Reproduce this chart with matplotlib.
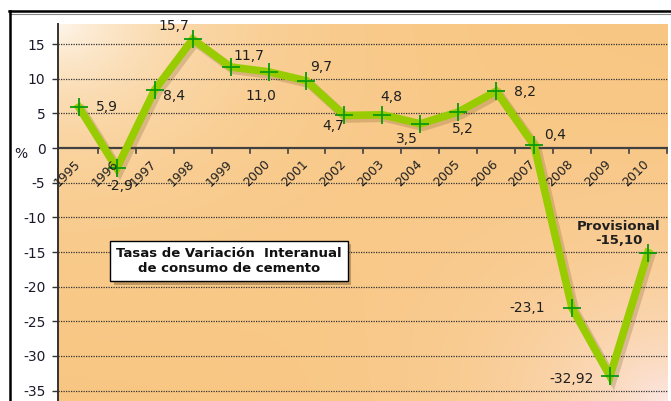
import numpy as np
import matplotlib
matplotlib.use("Agg")
from matplotlib import pyplot as plt
from matplotlib import patheffects as pe
from matplotlib.lines import Line2D

years = ["1995", "1996", "1997", "1998", "1999", "2000", "2001", "2002",
         "2003", "2004", "2005", "2006", "2007", "2008", "2009", "2010"]
values = [5.9, -2.9, 8.4, 15.7, 11.7, 11.0, 9.7, 4.7,
          4.8, 3.5, 5.2, 8.2, 0.4, -23.1, -32.92, -15.10]
labels = ["5,9", "-2,9", "8,4", "15,7", "11,7", "11,0", "9,7", "4,7",
          "4,8", "3,5", "5,2", "8,2", "0,4", "-23,1", "-32,92", "-15,10"]
yticks = [15, 10, 5, 0, -5, -10, -15, -20, -25, -30, -35]

# label offsets in pixels (dx, dy up)
offs_px = [(28, 0), (3, -18), (19, -6), (-19, 13), (18, 11), (-8, -24),
           (15, 14), (-11, -11), (9, 18), (-13, -15), (5, -17), (29, -1),
           (21, 10), (-45, 0), (-38, -3), (-28, 10)]

plt.rcParams['font.family'] = ['DejaVu Sans']
fig = plt.figure(figsize=(6.71, 4.01), dpi=100)
ax = fig.add_axes([58 / 671, 0, 610 / 671, 1 - 24 / 401])
x = np.arange(len(values))
ax.set_xlim(-0.55, 15.53)
ax.set_ylim(-36.5, 17.9)

# gradient background
h, w = 200, 300
u = np.linspace(0, 1, w)[None, :]
v = np.linspace(0, 1, h)[:, None]
orange = np.array([0.973, 0.773, 0.498])
cream = np.array([0.995, 0.960, 0.915])
pink = np.array([0.990, 0.905, 0.890])
d1 = np.sqrt((u * 1.0) ** 2 + (v * 0.8) ** 2)
d2 = np.sqrt(((1 - u) * 1.2) ** 2 + ((1 - v) * 0.9) ** 2)
a1 = np.exp(-d1 / 0.22)[..., None]
a2 = np.exp(-d2 / 0.25)[..., None]
img = orange * (1 - a1) + cream * a1
img = img * (1 - a2) + pink * a2
ax.imshow(img, extent=(-0.55, 15.53, -36.5, 17.9), aspect='auto', zorder=0,
          origin='upper', interpolation='bicubic')

for yv in yticks:
    if yv != 0:
        ax.axhline(yv, color='#333333', lw=0.9, ls=(0, (1, 1)), zorder=1)
ax.axhline(0, color='#404040', lw=1.6, zorder=2)
for b in np.arange(0.5, 15.6, 1.0):
    ax.plot([b, b], [0, -0.75], color='#404040', lw=1.2, zorder=2,
            clip_on=False)

ax.plot(x, values, color='#99cc00', lw=5.5, zorder=3, solid_joinstyle='miter',
        path_effects=[pe.SimpleLineShadow(offset=(2, -2), shadow_color='#6b4a20',
                                          alpha=0.22, linewidth=6.5),
                      pe.Normal()])
ax.plot(x, values, ls='none', marker='+', ms=13, mew=1.3, color='#0a9a0a',
        zorder=4)

for i in range(len(values) - 1):
    dx, dy = offs_px[i]
    ax.annotate(labels[i], (x[i], values[i]), xytext=(dx * 0.72, dy * 0.72),
                textcoords='offset points', ha='center', va='center',
                fontsize=10, color='#1f1f1f', zorder=5)
ax.annotate("Provisional\n" + labels[-1], (x[-1], values[-1]),
            xytext=(-29 * 0.72, 19 * 0.72), textcoords='offset points',
            ha='center', va='center', fontsize=9.5, fontweight='bold',
            color='#1f1f1f', linespacing=1.1, zorder=5)

for i, yr in enumerate(years):
    ax.annotate(yr, (x[i], 0), xytext=(3, -7), textcoords='offset points',
                rotation=45, ha='right', va='top', fontsize=9,
                color='#1f1f1f', zorder=5)

ax.set_yticks(yticks)
ax.set_yticklabels([str(t) for t in yticks])
ax.tick_params(axis='y', direction='out', length=4, width=1, color='#333333',
               labelsize=10, labelcolor='#1a1a2a', pad=5)
ax.set_xticks([])
for s in ['top', 'right', 'bottom']:
    ax.spines[s].set_visible(False)
ax.spines['left'].set_color('#333333')
ax.spines['left'].set_linewidth(1.4)
fig.text(14 / 671, 1 - 154 / 401, "%", fontsize=10, color='#1a1a2a',
         va='center')

t = ax.text(229 / 671, 1 - 261 / 401, "Tasas de Variación  Interanual\nde consumo de cemento",
            transform=fig.transFigure, ha='center', va='center', fontsize=9.5,
            fontweight='bold', color='#111111', linespacing=1.25, zorder=6,
            bbox=dict(boxstyle='square,pad=0.45', fc='white', ec='black', lw=1.0))
t.get_bbox_patch().set_path_effects([
    pe.SimplePatchShadow(offset=(2.5, -2.5), shadow_rgbFace='#7a5a30', alpha=0.45),
    pe.Normal()])

# outer frame
fig.add_artist(Line2D([9 / 671, 1], [1 - 11 / 401, 1 - 11 / 401], color='black', lw=1.8))
fig.add_artist(Line2D([9 / 671, 1], [1 - 13.5 / 401, 1 - 13.5 / 401], color='#888888', lw=0.8))
fig.add_artist(Line2D([9.5 / 671, 9.5 / 671], [0, 1 - 11 / 401], color='black', lw=1.8))

fig.savefig("out.png", dpi=100)
